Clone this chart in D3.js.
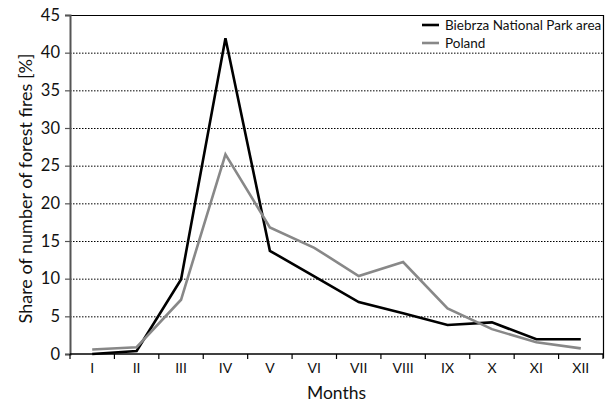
<!DOCTYPE html>
<html>
<head>
<meta charset="utf-8">
<script src="https://cdn.jsdelivr.net/npm/d3@7"></script>
<style>
  body { margin: 0; background: #fff; }
  svg text { font-family: Lato, "Open Sans", sans-serif; fill: #111; }
</style>
</head>
<body>
<div id="chart"></div>
<script>
const months = ['I','II','III','IV','V','VI','VII','VIII','IX','X','XI','XII'];
const biebrza = [0.0, 0.4, 9.9, 41.9, 13.7, 10.3, 6.9, 5.4, 3.85, 4.2, 1.95, 1.95];
const poland = [0.6, 0.9, 7.2, 26.5, 16.8, 14.1, 10.35, 12.2, 6.05, 3.3, 1.55, 0.75];
const yTicks = [0, 5, 10, 15, 20, 25, 30, 35, 40, 45];
const seriesNames = ['Biebrza National Park area', 'Poland'];

const W = 611, H = 405;
const mLeft = 70, mRight = 603, mTop = 15, mBottom = 354;

const svg = d3.select('#chart').append('svg')
  .attr('width', W)
  .attr('height', H);

const x = d3.scaleBand().domain(months).range([mLeft, mRight]);
const y = d3.scaleLinear().domain([0, 45]).range([mBottom, mTop]);

// dotted grid lines
svg.append('g')
  .selectAll('line')
  .data(yTicks.filter(t => t > 0 && t < 45))
  .enter().append('line')
  .attr('x1', mLeft).attr('x2', mRight)
  .attr('y1', d => y(d) + 0.5).attr('y2', d => y(d) + 0.5)
  .attr('stroke', '#000')
  .attr('stroke-width', 1)
  .attr('stroke-dasharray', '1.5,1.5');

// top and right frame
svg.append('line')
  .attr('x1', mLeft).attr('x2', mRight)
  .attr('y1', y(45) + 0.5).attr('y2', y(45) + 0.5)
  .attr('stroke', '#000').attr('stroke-width', 1);
svg.append('line')
  .attr('x1', mRight + 0.5).attr('x2', mRight + 0.5)
  .attr('y1', y(45)).attr('y2', mBottom + 4)
  .attr('stroke', '#000').attr('stroke-width', 1.2);

// y axis
const yAxis = svg.append('g')
  .attr('transform', `translate(${mLeft},0)`)
  .call(d3.axisLeft(y).tickValues(yTicks).tickSize(5).tickPadding(5));
yAxis.select('.domain').attr('stroke', '#555').attr('stroke-width', 2);
yAxis.selectAll('.tick line').attr('stroke', '#555').attr('stroke-width', 1.2);
yAxis.selectAll('.tick text')
  .style('font-size', '16.5px')
  .attr('fill', '#111');

// x axis with ticks between categories
const xAxis = svg.append('g')
  .attr('transform', `translate(0,${mBottom})`);
xAxis.append('line')
  .attr('x1', mLeft).attr('x2', mRight + 1)
  .attr('stroke', '#000').attr('stroke-width', 1.6);
const bounds = months.map(m => x(m)).concat([mRight]);
xAxis.selectAll('line.tk')
  .data(bounds)
  .enter().append('line')
  .attr('class', 'tk')
  .attr('x1', d => d).attr('x2', d => d)
  .attr('y1', 0).attr('y2', 5)
  .attr('stroke', '#000').attr('stroke-width', 1.2);
xAxis.selectAll('text')
  .data(months)
  .enter().append('text')
  .attr('x', d => x(d) + x.bandwidth() / 2)
  .attr('y', 19)
  .attr('text-anchor', 'middle')
  .style('font-size', '14px')
  .text(d => d);

// axis titles
svg.append('text')
  .attr('x', (mLeft + mRight) / 2)
  .attr('y', 399)
  .attr('text-anchor', 'middle')
  .style('font-size', '17.5px')
  .text('Months');
svg.append('text')
  .attr('transform', `translate(32,${(mTop + mBottom) / 2 + 4}) rotate(-90)`)
  .attr('text-anchor', 'middle')
  .style('font-size', '18px')
  .text('Share of number of forest fires [%]');

// lines
const line = d3.line()
  .x((d, i) => x(months[i]) + x.bandwidth() / 2)
  .y(d => y(d));

const series = [
  { name: seriesNames[0], values: biebrza, color: '#000' },
  { name: seriesNames[1], values: poland, color: '#888' }
];

series.forEach(s => {
  svg.append('path')
    .datum(s.values)
    .attr('fill', 'none')
    .attr('stroke', s.color)
    .attr('stroke-width', 2.6)
    .attr('stroke-linejoin', 'miter')
    .attr('d', line);
});

// legend
const legend = svg.append('g').attr('transform', 'translate(422,25)');
series.forEach((s, i) => {
  const g = legend.append('g').attr('transform', `translate(0,${i * 18})`);
  g.append('line')
    .attr('x1', 0).attr('x2', 17)
    .attr('stroke', s.color).attr('stroke-width', 2.6);
  g.append('text')
    .attr('x', 23).attr('y', 4.5)
    .style('font-size', '13.5px')
    .text(s.name);
});
</script>
</body>
</html>
